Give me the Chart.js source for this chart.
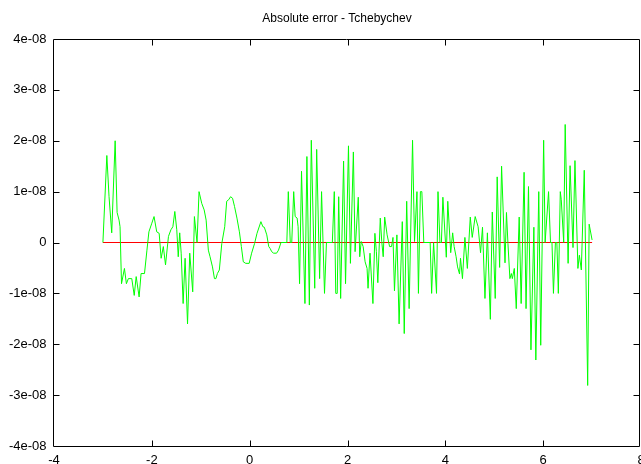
<!DOCTYPE html>
<html>
<head>
<meta charset="utf-8">
<script src="https://cdn.jsdelivr.net/npm/chart.js@4.4.0/dist/chart.umd.min.js"></script>
<style>
  html, body { margin: 0; padding: 0; background: #fff; }
</style>
</head>
<body>
<canvas id="grafico" width="641" height="464"></canvas>
<script>
var titulo = "Absolute error - Tchebychev";

var xTicks = [-4, -2, 0, 2, 4, 6, 8];
var yTicks = [-4e-8, -3e-8, -2e-8, -1e-8, 0, 1e-8, 2e-8, 3e-8, 4e-8];
var yTickLabels = ["-4e-08", "-3e-08", "-2e-08", "-1e-08", "0", "1e-08", "2e-08", "3e-08", "4e-08"];

// curva verde: abscissas
var erroX = [
  -3.00, -2.92, -2.875, -2.82, -2.75, -2.71, -2.67, -2.65, -2.62, -2.56,
  -2.52, -2.48, -2.41, -2.36, -2.32, -2.26, -2.22, -2.15, -2.10, -2.06,
  -2.00, -1.955, -1.90, -1.85, -1.81, -1.765, -1.72, -1.66, -1.61, -1.57,
  -1.53, -1.49, -1.46, -1.43, -1.40, -1.36, -1.32, -1.27, -1.225, -1.164,
  -1.13, -1.076, -1.035, -0.98, -0.93, -0.89, -0.845, -0.81, -0.76, -0.72,
  -0.69, -0.66, -0.62, -0.57, -0.51, -0.47, -0.43, -0.39, -0.35, -0.31,
  -0.26, -0.21, -0.17, -0.13, -0.08, -0.01, 0.04, 0.10, 0.15, 0.23,
  0.27, 0.30, 0.35, 0.39, 0.42, 0.45, 0.49, 0.55, 0.59, 0.64,
  0.76, 0.79, 0.83, 0.86, 0.90, 0.93, 0.97, 0.99, 1.02, 1.06,
  1.13, 1.17, 1.22, 1.26, 1.33, 1.37, 1.43, 1.47, 1.53, 1.57,
  1.69, 1.73, 1.76, 1.79, 1.82, 1.86, 1.92, 1.96, 2.02, 2.06,
  2.12, 2.155, 2.22, 2.25, 2.28, 2.32, 2.36, 2.40, 2.42, 2.46,
  2.52, 2.56, 2.59, 2.62, 2.67, 2.70, 2.73, 2.76, 2.81, 2.86,
  2.90, 2.93, 2.96, 3.01, 3.055, 3.12, 3.16, 3.21, 3.26, 3.33,
  3.37, 3.42, 3.45, 3.49, 3.52, 3.56, 3.69, 3.72, 3.76, 3.82,
  3.85, 3.89, 3.92, 3.95, 4.02, 4.05, 4.11, 4.15, 4.18, 4.22,
  4.25, 4.29, 4.31, 4.35, 4.40, 4.45, 4.51, 4.55, 4.61, 4.67,
  4.72, 4.76, 4.81, 4.86, 4.92, 4.96, 5.02, 5.06, 5.11, 5.15,
  5.22, 5.25, 5.28, 5.32, 5.35, 5.37, 5.41, 5.45, 5.51, 5.55,
  5.61, 5.65, 5.70, 5.75, 5.81, 5.85, 5.91, 5.95, 6.01, 6.04,
  6.11, 6.15, 6.18, 6.21, 6.25, 6.28, 6.31, 6.35, 6.37, 6.42,
  6.45, 6.51, 6.55, 6.61, 6.65, 6.71, 6.74, 6.78, 6.84, 6.91,
  6.94, 7.00
];

// erro absoluto, em unidades de 1e-08
var erroY = [
  0, 1.71, 0.90, 0.19, 2.00, 0.59, 0.44, 0.31, -0.81, -0.51,
  -0.81, -0.71, -0.71, -1.04, -0.67, -1.07, -0.61, -0.61, -0.15, 0.21,
  0.38, 0.51, 0.21, 0.18, -0.31, -0.08, -0.44, 0.12, 0.25, 0.31,
  0.61, 0.25, -0.28, 0.19, -0.21, -1.20, -0.31, -1.60, -0.21, -0.97,
  0.51, 0, 1.00, 0.77, 0.64, 0.44, -0.15, -0.28, -0.48, -0.71,
  -0.71, -0.61, -0.54, -0.02, 0.31, 0.81, 0.84, 0.90, 0.87, 0.71,
  0.48, 0.21, -0.08, -0.38, -0.41, -0.41, -0.21, -0.02, 0.18, 0.41,
  0.31, 0.30, 0.15, -0.08, -0.12, -0.18, -0.21, -0.21, -0.15, 0,
  0, 1.00, 0, 0, 1.00, 0.51, 0.48, 0.31, -0.81, 1.40,
  -1.20, 1.69, -1.23, 2.01, -0.90, 1.83, -0.71, 1.00, -1.00, 0,
  0, 1.00, -1.00, -1.00, 0.90, -1.10, 1.60, -0.81, 1.90, -0.41,
  1.78, -0.18, 0.89, -0.28, 0.02, -0.08, -0.38, -0.51, -0.90, -0.21,
  -1.20, 0.18, -0.18, -0.79, 0.48, 0.02, -0.28, 0.50, 0.15, -0.08,
  -0.08, 0.10, -0.95, 0.15, -1.60, 0.41, -1.79, 0.81, -1.30, 2.01,
  0.02, 1.00, -1.00, 1.00, 1.00, 0, 0, -1.00, 0, -1.00,
  1.00, 0, 0, 0.89, -0.29, 0.81, -0.20, 0.19, -0.08, -0.28,
  -0.48, -0.62, -0.31, -0.71, 0.10, -0.51, 0.50, 0.10, 0.51, 0.31,
  -0.20, 0.30, -1.10, 0.19, -1.51, 0.60, -1.10, 1.29, -0.49, 1.50,
  -0.40, 0.59, -0.02, -0.71, -0.61, -0.71, -0.51, -1.30, 0.50, -1.20,
  1.38, -1.30, 1.10, -2.11, 0.30, -2.31, 1.00, -2.02, 2.01, 0,
  1.00, 0, 0, -1.00, 0, 0, -1.00, 1.00, 0.84, 0,
  2.32, -0.41, 1.51, -0.10, 1.61, -0.51, -0.25, -0.54, 1.42, -2.81,
  0.36, 0.05
];

// linha vermelha de referencia
var zeroX = [-3, 7];
var zeroY = [0, 0];

var fonte = "'Liberation Sans', Arial, sans-serif";

function pares(xs, ys, escala) {
  return xs.map(function (x, i) { return { x: x, y: ys[i] * escala }; });
}

// moldura estilo gnuplot, com marcas de escala para dentro
var moldura = {
  id: "moldura",
  afterDraw: function (chart) {
    var ctx = chart.ctx;
    var a = chart.chartArea;
    var sx = chart.scales.x, sy = chart.scales.y;
    var l = a.left - 0.5, r = a.right - 1.5, t = a.top + 0.5, b = a.bottom + 0.5;
    var tam = 6;
    ctx.save();
    ctx.strokeStyle = "#000";
    ctx.lineWidth = 1;
    ctx.beginPath();
    ctx.rect(l, t, r - l, b - t);
    xTicks.forEach(function (v) {
      var px = Math.round(sx.getPixelForValue(v)) + 0.5;
      if (px <= l + 1 || px >= r - 1) return;
      ctx.moveTo(px, b); ctx.lineTo(px, b - tam);
      ctx.moveTo(px, t); ctx.lineTo(px, t + tam);
    });
    yTicks.forEach(function (v) {
      var py = Math.round(sy.getPixelForValue(v)) + 0.5;
      if (py <= t + 1 || py >= b - 1) return;
      ctx.moveTo(l, py); ctx.lineTo(l + tam, py);
      ctx.moveTo(r, py); ctx.lineTo(r - tam, py);
    });
    ctx.stroke();

    ctx.fillStyle = "#000";
    ctx.font = "12px " + fonte;
    ctx.textAlign = "center";
    ctx.textBaseline = "middle";
    ctx.fillText(titulo, 337, 19);
    ctx.restore();
  }
};

new Chart(document.getElementById("grafico").getContext("2d"), {
  type: "scatter",
  data: {
    datasets: [
      {
        label: "erro",
        data: pares(erroX, erroY, 1e-8),
        showLine: true,
        borderColor: "#00ff00",
        borderWidth: 1,
        pointRadius: 0,
        tension: 0,
        order: 0
      },
      {
        label: "zero",
        data: pares(zeroX, zeroY, 1),
        showLine: true,
        borderColor: "#ff0000",
        borderWidth: 1,
        pointRadius: 0,
        tension: 0,
        order: 1
      }
    ]
  },
  options: {
    responsive: false,
    animation: false,
    devicePixelRatio: 1,
    layout: { padding: { left: 0, right: 0, top: 39, bottom: 0 } },
    plugins: {
      legend: { display: false },
      title: { display: false },
      tooltip: { enabled: false }
    },
    scales: {
      x: {
        type: "linear",
        min: -4,
        max: 8,
        grid: { display: false, drawTicks: false },
        border: { display: false },
        afterBuildTicks: function (s) { s.ticks = xTicks.map(function (v) { return { value: v }; }); },
        afterFit: function (s) { s.height = 18; s.paddingLeft = 0; s.paddingRight = 0; },
        ticks: {
          color: "#000",
          padding: 7,
          maxRotation: 0,
          autoSkip: false,
          font: { family: fonte, size: 13 },
          callback: function (v) { return String(v); }
        }
      },
      y: {
        type: "linear",
        min: -4e-8,
        max: 4e-8,
        grid: { display: false, drawTicks: false },
        border: { display: false },
        afterBuildTicks: function (s) { s.ticks = yTicks.map(function (v) { return { value: v }; }); },
        afterFit: function (s) { s.width = 54; },
        ticks: {
          color: "#000",
          padding: 7.5,
          autoSkip: false,
          font: { family: fonte, size: 13 },
          callback: function (v, i) { return yTickLabels[i]; }
        }
      }
    }
  },
  plugins: [moldura]
});
</script>
</body>
</html>
